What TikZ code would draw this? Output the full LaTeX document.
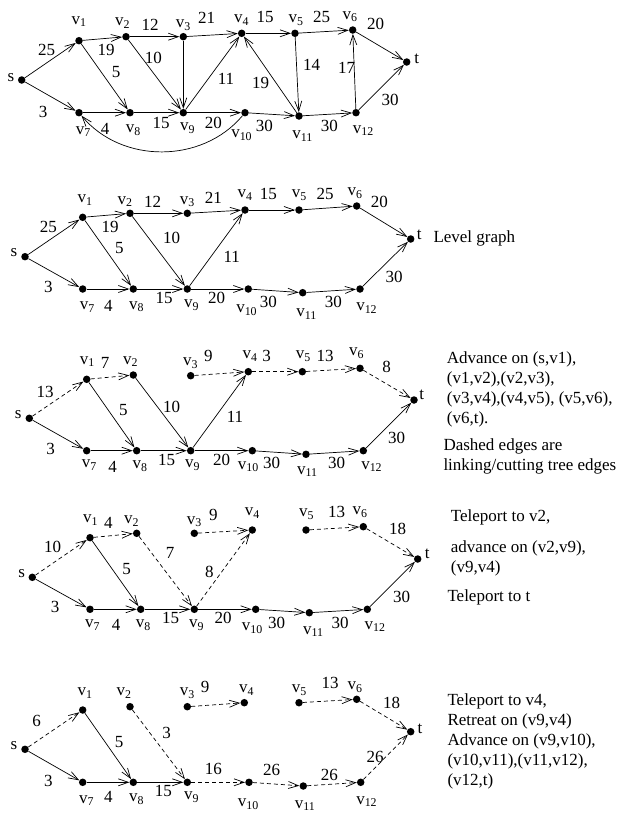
\documentclass[tikz,border=0pt]{standalone}
\usepackage{fontspec}
\setmainfont{Liberation Serif}
\usetikzlibrary{arrows.meta}
\newcommand{\vx}[1]{v\textsubscript{#1}}
\begin{document}
\begin{tikzpicture}[x=1pt, y=-1pt, >={Straight Barb[length=10pt,width=7pt]},
    dot/.style={circle, fill=black, inner sep=0pt, minimum size=7.5pt},
    lbl/.style={inner sep=0pt, font=\rmfamily\fontsize{17}{20}\selectfont},
    arr/.style={->, line width=0.7pt},
    cut/.style={arr, dash pattern=on 4pt off 3pt},
    note/.style={lbl, align=left, anchor=west}]
    \useasboundingbox (0,0) rectangle (619,814);

    % Original network
    \foreach \n/\x/\y in {s/21.7/80, 1/79/40.7, 2/126/36.7, 3/183.3/36.7, 4/241.7/33.3, 5/295/33.3, 6/352.7/30, t/406.7/62,
        7/79/112.7, 8/130/112.7, 9/183.3/112.7, 10/245/112.7, 11/299/116, 12/356/112.7}
        \node[dot] (A\n) at (\x,\y) {};
    \foreach \n/\x/\y/\txt in {s/11/77.3/s, 1/79/21.7/\vx{1}, 2/122.7/23.3/\vx{2}, 3/183.3/25/\vx{3}, 4/241.7/20/\vx{4},
        5/296/20/\vx{5}, 6/350/16.7/\vx{6}, t/416.7/58.3/t, 7/83.3/131.7/\vx{7}, 8/133.3/130/\vx{8}, 9/187.7/128.3/\vx{9},
        10/241.7/135/\vx{10}, 11/302.7/136/\vx{11}, 12/363.3/130.7/\vx{12}}
        \node[lbl] (Al\n) at (\x,\y) {\txt};
    \foreach \w/\x/\y [count=\i] in {25/46.7/50, 3/43/111.7, 19/106/50, 12/150/25, 21/206.7/18.3, 5/116/71.7, 10/153.3/58.3,
        11/226/79, 4/105/129.3, 15/161/122.7, 20/213.3/122.7, 15/265/17.3, 25/321.7/17.3, 20/375.7/24.3, 14/311.7/65,
        19/260.7/82.7, 17/346.7/68.3, 30/390/100, 30/264.3/126, 30/329.3/126}
        \node[lbl] (Aw\i) at (\x,\y) {\w};
    \foreach \a/\b in {s/1, s/7, 1/2, 1/8, 2/3, 2/9, 3/4, 3/9, 7/8, 8/9, 9/4, 9/10, 4/5, 5/6, 5/11, 11/4, 6/t,
        10/11, 11/12, 12/6, 12/t}
        \draw[arr] (A\a) -- (A\b);
    \draw[arr] (A10) to[bend left=50] (A7);

    % Level graph
    \foreach \n/\x/\y in {s/25/256.7, 1/82.7/217.3, 2/130/213.3, 3/187.3/213.3, 4/245/210, 5/299/210, 6/356.7/206, t/410.7/239,
        7/82.7/289, 8/133.3/289, 9/187.3/289, 10/248.3/289, 11/302.7/292.7, 12/360/289}
        \node[dot] (B\n) at (\x,\y) {};
    \foreach \n/\x/\y/\txt in {s/14/252.7/s, 1/85/200/\vx{1}, 2/125/201.7/\vx{2}, 3/187.3/201.7/\vx{3}, 4/245/195/\vx{4},
        5/299.3/195/\vx{5}, 6/355/193.3/\vx{6}, t/419.3/235/t, 7/87.3/307.3/\vx{7}, 8/136.7/306.7/\vx{8}, 9/191.7/305/\vx{9},
        10/246.7/310/\vx{10}, 11/306.7/314/\vx{11}, 12/366.7/308.3/\vx{12}}
        \node[lbl] (Bl\n) at (\x,\y) {\txt};
    \foreach \w/\x/\y [count=\i] in {25/48.3/227.3, 3/48.3/287.3, 19/110/226.7, 12/152.7/201.7, 21/213.3/198.3, 5/119.3/248.3,
        10/171.7/238.3, 11/231.7/256.7, 4/108.3/305.7, 15/164/298.3, 20/216.7/298.3, 15/268.3/194, 25/325/194,
        20/379.3/201.7, 30/394/276.7, 30/268.3/301.7, 30/333.3/301.7}
        \node[lbl] (Bw\i) at (\x,\y) {\w};
    \foreach \a/\b in {s/1, s/7, 1/2, 1/8, 2/3, 2/9, 3/4, 7/8, 8/9, 9/4, 9/10, 4/5, 5/6, 6/t, 10/11, 11/12, 12/t}
        \draw[arr] (B\a) -- (B\b);
    \node[note] (Bnote) at (433.3,238.3) {Level graph};

    % First advances
    \foreach \n/\x/\y in {s/29.3/418.3, 1/86.7/379.3, 2/133.3/375, 3/190.7/375.7, 4/248.3/371.7, 5/302.3/371.7, 6/360/368.3,
        t/414/400, 7/86.7/450.7, 8/136.7/450.7, 9/190.7/450.7, 10/252.3/450.7, 11/306/454.3, 12/363.3/450.7}
        \node[dot] (C\n) at (\x,\y) {};
    \foreach \n/\x/\y/\txt in {s/18.3/415/s, 1/87.3/361.7/\vx{1}, 2/130.7/361.7/\vx{2}, 3/190.7/363.3/\vx{3}, 4/250/356/\vx{4},
        5/303.3/356/\vx{5}, 6/356.7/353.3/\vx{6}, t/421.7/395/t, 7/89.3/465/\vx{7}, 8/140/466/\vx{8}, 9/192.7/465/\vx{9},
        10/248.3/466.7/\vx{10}, 11/307.3/471.7/\vx{11}, 12/371.7/466.7/\vx{12}}
        \node[lbl] (Cl\n) at (\x,\y) {\txt};
    \foreach \w/\x/\y [count=\i] in {13/45/391.7, 7/105/363.3, 3/50.7/449.3, 5/123.3/410, 10/171.7/406.7, 9/208.3/356,
        11/235/417.3, 3/266.7/355.5, 13/325/356, 8/386.7/367.3, 30/396.7/438.3, 4/112.7/466.7, 15/166.7/460,
        20/221.7/460, 30/271.7/463.3, 30/336.7/463.3}
        \node[lbl] (Cw\i) at (\x,\y) {\w};
    \foreach \a/\b in {s/7, 1/8, 2/9, 7/8, 8/9, 9/4, 9/10, 10/11, 11/12, 12/t}
        \draw[arr] (C\a) -- (C\b);
    \foreach \a/\b in {s/1, 1/2, 3/4, 4/5, 5/6, 6/t}
        \draw[cut] (C\a) -- (C\b);
    \node[note] (Cnote) at (446.7,389.7) {Advance on (s,v1),\\(v1,v2),(v2,v3),\\(v3,v4),(v4,v5), (v5,v6),\\(v6,t).};
    \node[note] (Cdash) at (443.3,456.2) {Dashed edges are\\linking/cutting tree edges};

    % Teleports
    \foreach \n/\x/\y in {s/32.3/577.3, 1/90/537.7, 2/136.7/533.3, 3/194.3/533.3, 4/252.3/530, 5/306/530, 6/363.3/526.7,
        t/417.7/559, 7/90/609.3, 8/140.7/609.3, 9/194.3/609.3, 10/255.7/609.3, 11/309.3/612.7, 12/367.3/609.3}
        \node[dot] (D\n) at (\x,\y) {};
    \foreach \n/\x/\y/\txt in {s/21.7/573.3/s, 1/90.7/520/\vx{1}, 2/131.7/521/\vx{2}, 3/194.3/521.7/\vx{3},
        4/252.3/513.3/\vx{4}, 5/306.7/514/\vx{5}, 6/360/512.3/\vx{6}, t/427.3/554/t, 7/92.7/625/\vx{7},
        8/143.3/625/\vx{8}, 9/196.7/625/\vx{9}, 10/252.3/628.3/\vx{10}, 11/313.3/631.7/\vx{11}, 12/375/626.7/\vx{12}}
        \node[lbl] (Dl\n) at (\x,\y) {\txt};
    \foreach \w/\x/\y [count=\i] in {10/52.7/546.7, 4/108.3/522.7, 7/170/552.7, 9/213.3/515, 8/209.3/571.7, 5/126.7/569.3,
        3/55/606.7, 4/116/625, 15/170.7/618.3, 20/223/618.3, 30/276.7/622.7, 30/340/622.7, 13/336.7/511.7,
        18/397.7/529.3, 30/401.7/597.3}
        \node[lbl] (Dw\i) at (\x,\y) {\w};
    \foreach \a/\b in {s/7, 1/8, 7/8, 8/9, 9/10, 10/11, 11/12, 12/t}
        \draw[arr] (D\a) -- (D\b);
    \foreach \a/\b in {s/1, 1/2, 2/9, 3/4, 9/4, 5/6, 6/t}
        \draw[cut] (D\a) -- (D\b);
    \node[note] (Dnote1) at (450.7,517.7) {Teleport to v2,};
    \node[note] (Dnote2) at (450.7,558.8) {advance on (v2,v9),\\(v9,v4)};
    \node[note] (Dnote3) at (447.3,597.3) {Teleport to t};

    % Retreat and advance
    \foreach \n/\x/\y in {s/25/749.3, 1/82.7/710, 2/130/706.7, 3/187.3/706.7, 4/244.3/702.7, 5/299/702.7, 6/356.7/699.3,
        t/410.7/731.7, 7/82.7/782.3, 8/133.3/782.3, 9/187.3/782.3, 10/249/782.3, 11/303.3/786, 12/360.7/782.3}
        \node[dot] (E\n) at (\x,\y) {};
    \foreach \n/\x/\y/\txt in {s/14/746/s, 1/85/693.3/\vx{1}, 2/124/693.3/\vx{2}, 3/187.3/693.3/\vx{3}, 4/246.7/690/\vx{4},
        5/299.3/690/\vx{5}, 6/355/687.3/\vx{6}, t/420/728.3/t, 7/86.7/800.7/\vx{7}, 8/136.7/799.3/\vx{8},
        9/191.7/797.3/\vx{9}, 10/248.3/804/\vx{10}, 11/305/805.5/\vx{11}, 12/366.7/801.7/\vx{12}}
        \node[lbl] (El\n) at (\x,\y) {\txt};
    \foreach \w/\x/\y [count=\i] in {6/36.7/721, 3/48.3/780.7, 5/119/741.7, 3/166.7/733.3, 9/205/687.3, 16/213.3/769.3,
        4/108.3/796.7, 15/163.3/790.7, 26/271.7/770, 26/329.3/775, 26/375/756.7, 13/330/683.3, 18/391.7/702.7}
        \node[lbl] (Ew\i) at (\x,\y) {\w};
    \foreach \a/\b in {s/7, 1/8, 7/8, 8/9}
        \draw[arr] (E\a) -- (E\b);
    \foreach \a/\b in {s/1, 2/9, 3/4, 5/6, 6/t, 9/10, 10/11, 11/12, 12/t}
        \draw[cut] (E\a) -- (E\b);
    \node[note] (Enote) at (447.3,741.7) {Teleport to v4,\\Retreat on (v9,v4)\\Advance on (v9,v10),\\(v10,v11),(v11,v12),\\(v12,t)};
\end{tikzpicture}
\end{document}
